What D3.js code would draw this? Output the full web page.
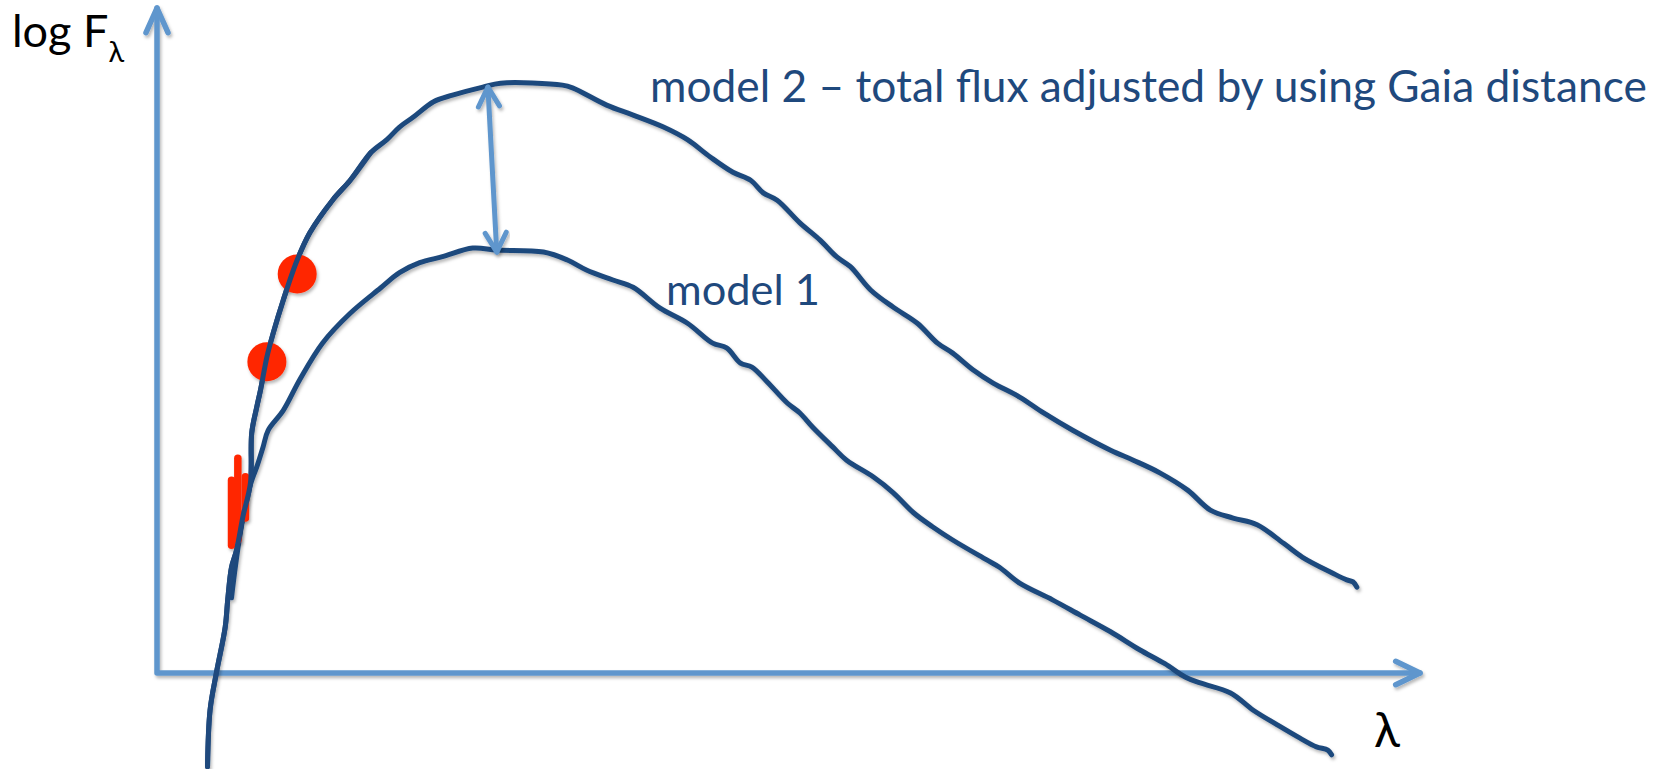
<!DOCTYPE html>
<html>
<head>
<meta charset="utf-8">
<script src="https://cdn.jsdelivr.net/npm/d3@7"></script>
<style>
  body { margin: 0; background: #fff; }
  svg { display: block; }
  text { font-family: Lato, "Open Sans", sans-serif; }
</style>
</head>
<body>
<div id="sedContainer"></div>
<script>

// --------- data (arbitrary units: lambda along x, log F along y)
var model2Lambda = [0.40, 0.42, 0.47, 0.54, 0.56, 0.59, 0.63, 0.68, 0.74, 0.75, 0.79, 0.82, 0.87, 0.92, 1.00,
    1.11, 1.21, 1.39, 1.53, 1.69, 1.82, 1.92, 2.03, 2.19, 2.34, 2.58, 2.72, 3.21, 3.29, 3.56, 3.77, 4.01,
    4.20, 4.38, 4.56, 4.70, 4.80, 4.91, 5.09, 5.25, 5.38, 5.49, 5.65, 5.83, 6.02, 6.18, 6.30, 6.46, 6.62,
    6.83, 7.02, 7.25, 7.55, 7.73, 7.94, 8.16, 8.34, 8.52, 8.71, 8.92, 9.07, 9.31, 9.42, 9.47, 9.50];
var model2Flux = [-1.41, -0.56, 0.00, 0.69, 1.10, 1.59, 1.85, 2.35, 2.86, 3.61, 4.00, 4.26, 4.75, 5.11, 5.61,
    6.21, 6.62, 7.11, 7.41, 7.82, 8.02, 8.21, 8.36, 8.59, 8.69, 8.81, 8.87, 8.84, 8.80, 8.54, 8.39, 8.21,
    8.02, 7.76, 7.53, 7.41, 7.22, 7.11, 6.77, 6.51, 6.26, 6.11, 5.76, 5.50, 5.26, 4.96, 4.81, 4.56, 4.36,
    4.15, 3.91, 3.65, 3.35, 3.20, 3.01, 2.75, 2.45, 2.33, 2.23, 1.95, 1.74, 1.50, 1.40, 1.37, 1.29];

var model1Lambda = [0.59, 0.62, 0.66, 0.72, 0.76, 0.79, 0.84, 0.88, 1.00, 1.13, 1.31, 1.53, 1.77, 1.92, 2.08,
    2.26, 2.50, 2.69, 3.06, 3.25, 3.40, 3.61, 3.77, 3.98, 4.20, 4.40, 4.51, 4.62, 4.71, 4.83, 4.99, 5.09,
    5.19, 5.35, 5.46, 5.67, 5.83, 5.99, 6.14, 6.30, 6.57, 6.67, 6.83, 7.09, 7.31, 7.55, 7.78, 7.98, 8.14,
    8.26, 8.50, 8.68, 8.87, 9.05, 9.18, 9.27, 9.30];
var model1Flux = [1.13, 1.59, 2.11, 2.71, 2.95, 3.10, 3.40, 3.65, 3.95, 4.41, 4.96, 5.41, 5.79, 6.02, 6.17,
    6.26, 6.39, 6.36, 6.33, 6.21, 6.06, 5.91, 5.80, 5.49, 5.26, 4.96, 4.89, 4.66, 4.60, 4.38, 4.06, 3.91,
    3.70, 3.40, 3.20, 2.95, 2.71, 2.41, 2.20, 2.00, 1.70, 1.59, 1.35, 1.10, 0.87, 0.62, 0.35, 0.14, -0.06,
    -0.15, -0.30, -0.56, -0.78, -0.98, -1.11, -1.16, -1.23];

// photometry: two points and a short red smear of bars
var photLambda = [1.11, 0.87];
var photFlux = [6.00, 4.68];
var barLambda = [0.59, 0.64, 0.70];
var barLow = [1.92, 2.00, 2.33];
var barHigh = [2.90, 3.23, 2.95];

// double arrow between the two model peaks
var shiftLambda = [2.62, 2.69];
var shiftFlux = [8.81, 6.33];

var labelModel2 = "model 2 \u2013 total flux adjusted by using Gaia distance";
var labelModel1 = "model 1";

// --------- layout
var w = 1664, h = 769;
var origin = { x: 157, y: 673 };
var axisEnd = { x: 1420, y: 8 };

var axisColor = "#5f96cd";
var curveColor = "#1F497D";
var red = "#ff2600";

var svg = d3.select("#sedContainer")
    .append("svg")
    .attr("width", w)
    .attr("height", h);

var defs = svg.append("defs");
var shadow = defs.append("filter")
    .attr("id", "shadow")
    .attr("x", "-10%").attr("y", "-10%")
    .attr("width", "120%").attr("height", "120%");
shadow.append("feDropShadow")
    .attr("dx", 1.5)
    .attr("dy", 2.5)
    .attr("stdDeviation", 1.5)
    .attr("flood-color", "#000")
    .attr("flood-opacity", 0.28);

var xScale = d3.scaleLinear()
    .domain([0, 10])
    .range([origin.x, axisEnd.x]);

var yScale = d3.scaleLinear()
    .domain([0, 10])
    .range([origin.y, axisEnd.y]);

// chevron arrow head at (x,y), pointing along angle a (radians)
function chevron(x, y, a, len, spread) {
    var p = d3.path();
    p.moveTo(x + len * Math.cos(a + Math.PI - spread), y + len * Math.sin(a + Math.PI - spread));
    p.lineTo(x, y);
    p.lineTo(x + len * Math.cos(a + Math.PI + spread), y + len * Math.sin(a + Math.PI + spread));
    return p.toString();
}

//---------- Axes
var axes = svg.append("g")
    .attr("class", "axes")
    .attr("filter", "url(#shadow)")
    .attr("stroke", axisColor)
    .attr("stroke-width", 5.5)
    .attr("stroke-linecap", "round")
    .attr("stroke-linejoin", "round")
    .attr("fill", "none");

axes.append("path")
    .attr("d", "M" + xScale(0) + "," + yScale(10) + "L" + xScale(0) + "," + yScale(0) + "L" + xScale(10) + "," + yScale(0));

axes.append("path")
    .attr("d", chevron(xScale(0), yScale(10), -Math.PI / 2, 27, 0.42));

axes.append("path")
    .attr("d", chevron(xScale(10), yScale(0), 0, 27, 0.45));

//---------- Model curves
var line = d3.line()
    .curve(d3.curveCatmullRom)
    .x(function(d) { return xScale(d[0]); })
    .y(function(d) { return yScale(d[1]); });

var curves = svg.append("g")
    .attr("class", "models")
    .attr("filter", "url(#shadow)");

curves.append("path")
    .datum(d3.zip(model1Lambda, model1Flux))
    .attr("class", "model1 line")
    .attr("d", line)
    .attr("fill", "none")
    .attr("stroke", curveColor)
    .attr("stroke-width", 5)
    .attr("stroke-linecap", "round")
    .attr("stroke-linejoin", "round");

curves.append("path")
    .datum(d3.zip(model2Lambda, model2Flux))
    .attr("class", "model2 line")
    .attr("d", line)
    .attr("fill", "none")
    .attr("stroke", curveColor)
    .attr("stroke-width", 5)
    .attr("stroke-linecap", "round")
    .attr("stroke-linejoin", "round");

//---------- Photometry
var phot = svg.append("g")
    .attr("class", "photometry")
    .attr("filter", "url(#shadow)");

phot.selectAll("line.bar")
    .data(d3.range(barLambda.length))
    .enter()
    .append("line")
    .attr("class", "bar")
    .attr("x1", function(i) { return xScale(barLambda[i]); })
    .attr("x2", function(i) { return xScale(barLambda[i]); })
    .attr("y1", function(i) { return yScale(barLow[i]); })
    .attr("y2", function(i) { return yScale(barHigh[i]); })
    .attr("stroke", red)
    .attr("stroke-width", 7.5)
    .attr("stroke-linecap", "round");

phot.selectAll("circle")
    .data(d3.zip(photLambda, photFlux))
    .enter()
    .append("circle")
    .attr("cx", function(d) { return xScale(d[0]); })
    .attr("cy", function(d) { return yScale(d[1]); })
    .attr("r", 19.5)
    .attr("fill", red);

// redraw model 2 through the dots (it runs on top of them)
svg.append("path")
    .datum(d3.zip(model2Lambda, model2Flux).slice(0, 20))
    .attr("d", line)
    .attr("fill", "none")
    .attr("stroke", curveColor)
    .attr("stroke-width", 5)
    .attr("stroke-linecap", "round")
    .attr("stroke-linejoin", "round");

//---------- Double arrow
var x1 = xScale(shiftLambda[0]), y1 = yScale(shiftFlux[0]);
var x2 = xScale(shiftLambda[1]), y2 = yScale(shiftFlux[1]);
var ang = Math.atan2(y2 - y1, x2 - x1);

var shift = svg.append("g")
    .attr("class", "shift")
    .attr("filter", "url(#shadow)")
    .attr("stroke", axisColor)
    .attr("stroke-width", 5)
    .attr("stroke-linecap", "round")
    .attr("stroke-linejoin", "round")
    .attr("fill", "none");

shift.append("line")
    .attr("x1", x1).attr("y1", y1)
    .attr("x2", x2).attr("y2", y2);

shift.append("path").attr("d", chevron(x1, y1, ang + Math.PI, 22, 0.5));
shift.append("path").attr("d", chevron(x2, y2, ang, 22, 0.5));

//---------- Labels
function fitWidth(sel, target) {
    var len = sel.node().getComputedTextLength();
    var fs = parseFloat(sel.attr("font-size"));
    sel.attr("font-size", fs * target / len);
}

var t2 = svg.append("text")
    .attr("x", 650)
    .attr("y", 102)
    .attr("font-size", 40)
    .attr("fill", curveColor)
    .text(labelModel2);
fitWidth(t2, 997);

var t1 = svg.append("text")
    .attr("x", 666)
    .attr("y", 305)
    .attr("font-size", 40)
    .attr("fill", curveColor)
    .text(labelModel1);
fitWidth(t1, 154);

var yLabel = svg.append("text")
    .attr("x", 12)
    .attr("y", 47)
    .attr("font-size", 45)
    .attr("fill", "#000");
yLabel.append("tspan").text("log F");
yLabel.append("tspan")
    .attr("font-size", 29)
    .attr("dy", 15)
    .text("\u03bb");

svg.append("text")
    .attr("x", 1374)
    .attr("y", 747)
    .attr("font-size", 48)
    .attr("fill", "#000")
    .text("\u03bb");

</script>
</body>
</html>
